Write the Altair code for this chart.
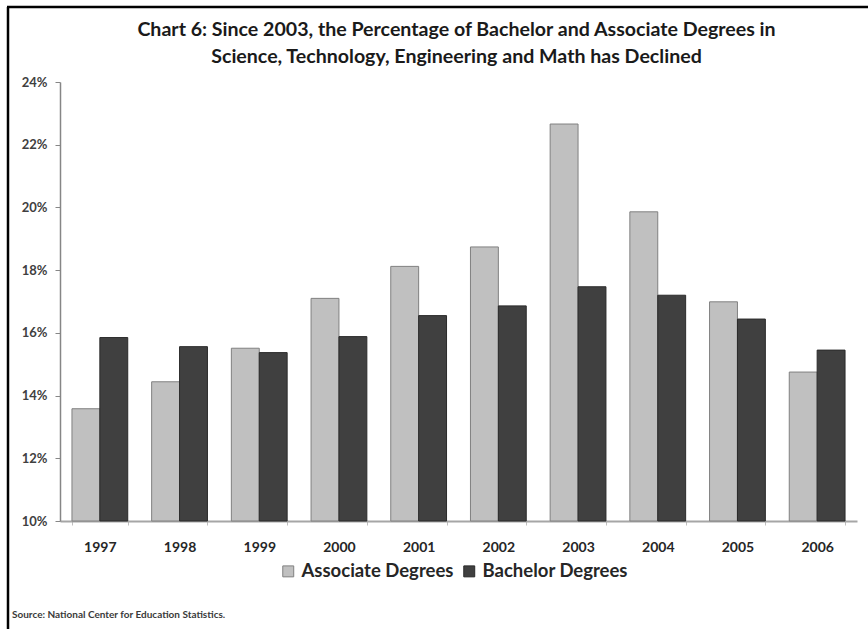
import altair as alt
import pandas as pd

years = ["1997", "1998", "1999", "2000", "2001", "2002", "2003", "2004", "2005", "2006"]
associate = [13.58, 14.44, 15.51, 17.10, 18.12, 18.74, 22.66, 19.86, 16.99, 14.75]
bachelor = [15.85, 15.56, 15.37, 15.88, 16.55, 16.86, 17.47, 17.20, 16.44, 15.45]
series_names = ["Associate Degrees", "Bachelor Degrees"]
y_ticks = [0.10, 0.12, 0.14, 0.16, 0.18, 0.20, 0.22, 0.24]
title_lines = [
    "Chart 6: Since 2003, the Percentage of Bachelor and Associate Degrees in",
    "Science, Technology, Engineering and Math has Declined",
]
source_note = "Source: National Center for Education Statistics."

rows = []
for i, yr in enumerate(years):
    rows.append({"year": yr, "series": series_names[0], "share": associate[i] / 100})
    rows.append({"year": yr, "series": series_names[1], "share": bachelor[i] / 100})
df = pd.DataFrame(rows)

FONT = "Lato"
PLOT_W, PLOT_H = 797, 439
Y_MIN, Y_MAX = 0.10, 0.24

bars = alt.Chart(df).mark_bar(strokeWidth=1).encode(
    x=alt.X(
        "year:N",
        sort=years,
        title=None,
        scale=alt.Scale(paddingInner=0.3, paddingOuter=0.15),
        axis=alt.Axis(
            labelAngle=0,
            labelFont=FONT,
            labelFontWeight="bold",
            labelFontSize=14,
            labelColor="#262626",
            domainColor="#a6a6a6",
            domainWidth=2,
            ticks=True,
            tickBand="extent",
            tickSize=4,
            tickColor="#bfbfbf",
            labelPadding=15,
        ),
    ),
    xOffset=alt.XOffset("series:N", sort=series_names, scale=alt.Scale(paddingInner=0, paddingOuter=0)),
    y=alt.Y(
        "share:Q",
        title=None,
        scale=alt.Scale(domain=[Y_MIN, Y_MAX], zero=False, nice=False),
        axis=alt.Axis(
            values=y_ticks,
            format=".0%",
            grid=False,
            labelFont=FONT,
            labelFontWeight="bold",
            labelFontSize=13,
            labelColor="#404040",
            domainColor="#868686",
            domainWidth=1.5,
            tickColor="#868686",
            tickSize=5,
            labelPadding=8,
        ),
    ),
    y2=alt.datum(Y_MIN),
    color=alt.Color(
        "series:N",
        sort=series_names,
        scale=alt.Scale(domain=series_names, range=["#c0c0c0", "#404040"]),
        legend=alt.Legend(
            title=None,
            orient="none",
            direction="horizontal",
            legendX=219,
            legendY=480,
            symbolType="square",
            symbolSize=120,
            symbolStrokeColor="#808080",
            symbolStrokeWidth=1,
            symbolOpacity=1,
            labelFont=FONT,
            labelFontSize=18.5,
            labelFontWeight="bold",
            labelColor="#262626",
            columnPadding=6,
            labelOffset=4,
        ),
    ),
    stroke=alt.Stroke(
        "series:N",
        sort=series_names,
        scale=alt.Scale(domain=series_names, range=["#808080", "#2a2a2a"]),
        legend=None,
    ),
)

# Two-line heading drawn above the plot area
heading = alt.Chart(pd.DataFrame({"t": ["\n".join(title_lines)]})).mark_text(
    align="center", baseline="top", font=FONT, fontSize=19.6, fontWeight="bold",
    color="#1a1a1a", lineBreak="\n", lineHeight=27,
).encode(text="t:N", x=alt.value(PLOT_W / 2 - 2), y=alt.value(-61))

source = alt.Chart(pd.DataFrame({"note": [source_note]})).mark_text(
    align="left", baseline="middle", font=FONT, fontSize=10, fontWeight="bold", color="#3a3a3a"
).encode(text="note:N", x=alt.value(-48), y=alt.value(533))

# Outer frame: left and top edges
frame_left = alt.Chart(pd.DataFrame({"k": [0]})).mark_rule(color="#000000", strokeWidth=2.5).encode(
    x=alt.value(-52), y=alt.value(-75), y2=alt.value(560)
)
frame_top = alt.Chart(pd.DataFrame({"k": [0]})).mark_rule(color="#000000", strokeWidth=2.5).encode(
    x=alt.value(-53), x2=alt.value(820), y=alt.value(-75)
)

chart = alt.layer(bars, heading, source, frame_left, frame_top).properties(
    width=PLOT_W,
    height=PLOT_H,
    autosize=alt.AutoSizeParams(type="none"),
    padding={"left": 60, "top": 82, "right": 11, "bottom": 108},
).configure(background="white", view=alt.ViewConfig(stroke=None))

chart.save("out.html", embed_options={"renderer": "svg", "actions": False})
